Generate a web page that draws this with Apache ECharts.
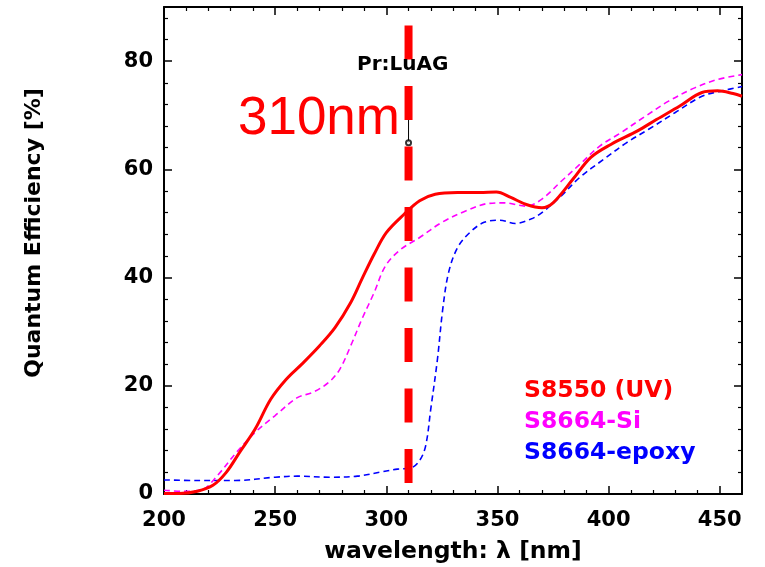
<!DOCTYPE html>
<html><head><meta charset="utf-8">
<script src="https://cdn.jsdelivr.net/npm/echarts@6/dist/echarts.min.js"></script>
<style>html,body{margin:0;padding:0;background:#fff}#c{width:765px;height:567px}</style>
</head><body><div id="c"></div>
<script>
// ---- data (wavelength nm, quantum efficiency %) ----
const seriesNames = ['S8550 (UV)', 'S8664-Si', 'S8664-epoxy'];
const seriesColors = ['#ff0000', '#ff00ff', '#0000ff'];
const s8550 = [[200,0.1],[207,0.1],[215,0.5],[222,1.6],[228,4],[234,7.7],[241,12],[248,17.5],[255,21.2],[262,24],[270,27.4],[277,30.8],[284,35.4],[289,39.7],[294.5,44.3],[300,48.3],[308,51.7],[315,54.2],[322,55.4],[332,55.7],[342,55.7],[349.5,55.8],[356,54.8],[363,53.5],[370,52.9],[375,53.8],[384,58.2],[392,62.2],[401,64.6],[413,67.1],[421.5,69.2],[432,71.7],[442,74.2],[449,74.5],[456,74],[460,73.5]];
const s8664Si = [[200,0.7],[208.6,0.5],[217,0.8],[224,3.4],[232.6,7.7],[241,11.4],[250,14.5],[260,17.8],[267,18.8],[274,20.6],[279,23],[284,27.4],[289,32.3],[294.5,37.2],[299.7,42.2],[306.5,45.2],[315,47.4],[325,50.2],[335.7,52.3],[346,53.7],[353,53.8],[363,53.2],[370,54.5],[378.7,57.8],[387,60.9],[396,64.3],[404.5,66.5],[416.5,69.8],[427,72.6],[439,75.1],[449,76.6],[460,77.5]];
const s8664Epoxy = [[200,2.6],[215,2.5],[232,2.5],[250,3.1],[260,3.3],[275,3.1],[287,3.3],[298,4.1],[305,4.6],[311,4.8],[315,6.2],[317.7,8.9],[320,15.7],[323,24.9],[325.4,34.2],[328,40.9],[332,45.5],[337.5,48.3],[344,50.2],[351,50.6],[358,50],[365,50.8],[370,52],[378.7,55.1],[387,58.5],[397.6,61.8],[408,64.9],[418,67.4],[430,70.5],[442,73.5],[451,74.5],[460,75.3]];
const xTickLabels = [200, 250, 300, 350, 400, 450];
const yTickLabels = [0, 20, 40, 60, 80];
const markerWavelength = 310;          // nm, red dashed marker
const markerExtent = [86.6, 1.85];     // % range covered by the marker line
const prLuAGPoint = [310, 64.9];       // Pr:LuAG point
const prLuAGBarTop = 71;               // top of its error bar
const markerLabel = '310nm';
const pointLabel = 'Pr:LuAG';
const xTitle = 'wavelength: \u03bb [nm]';
const yTitle = 'Quantum Efficiency [%]';

const FONT = 'DejaVu Sans';
const chart = echarts.init(document.getElementById('c'), null, {renderer: 'canvas'});

function axisBase(pos, isX, ticks) {
  return {
    type: 'value', position: pos,
    min: isX ? 200 : 0, max: isX ? 460 : 90, interval: isX ? 50 : 20,
    axisLine: {show: true, onZero: false, lineStyle: {color: '#000', width: 2}},
    axisTick: {show: true, inside: true, length: 8, lineStyle: {color: '#000', width: 1.5}},
    minorTick: {show: true, splitNumber: 5, length: 4, lineStyle: {color: '#000', width: 1.2}},
    splitLine: {show: false},
    axisLabel: {
      show: pos === 'bottom' || pos === 'left',
      margin: isX ? 16 : 11,
      color: '#000', fontFamily: FONT, fontWeight: 'bold', fontSize: 21,
      formatter: v => ticks.includes(v) ? String(v) : ''
    }
  };
}

const curves = [s8550, s8664Si, s8664Epoxy];
const series = curves.map((d, i) => ({
  name: seriesNames[i], type: 'line', data: d, smooth: 0.35, showSymbol: false, symbol: 'none',
  xAxisIndex: 0, yAxisIndex: 0, z: 3 - i + 2,
  lineStyle: i === 0 ? {color: seriesColors[i], width: 3} : {color: seriesColors[i], width: 1.6, type: [6, 4]},
  itemStyle: {color: seriesColors[i]}
}));
series.push({
  name: 'bar', type: 'line', data: [prLuAGPoint, [prLuAGPoint[0], prLuAGBarTop]], symbol: 'none',
  lineStyle: {color: '#000', width: 1}, z: 6
});
series.push({
  name: 'pt', type: 'scatter', data: [prLuAGPoint], symbol: 'emptyCircle', symbolSize: 5,
  itemStyle: {color: '#000', borderColor: '#000', borderWidth: 1}, z: 6
});
series.push({
  name: 'marker', type: 'line',
  data: [[markerWavelength, markerExtent[0]], [markerWavelength, markerExtent[1]]], symbol: 'none',
  lineStyle: {color: '#ff0000', width: 8, type: [34, 26.5], cap: 'butt'}, z: 8
});

chart.setOption({
  animation: false,
  backgroundColor: '#fff',
  grid: {left: 164, right: 23, top: 7, bottom: 73, containLabel: false},
  xAxis: [axisBase('bottom', true, xTickLabels), axisBase('top', true, xTickLabels)],
  yAxis: [axisBase('left', false, yTickLabels), axisBase('right', false, yTickLabels)],
  legend: {
    orient: 'vertical', left: 514, top: 374, icon: 'none', itemWidth: 0, itemHeight: 20, itemGap: 7,
    selectedMode: false,
    data: seriesNames.map((n, i) => ({name: n, textStyle: {color: seriesColors[i]}})),
    textStyle: {fontFamily: FONT, fontWeight: 'bold', fontSize: 23.5, lineHeight: 20}
  },
  graphic: [
    {type: 'text', x: 34, y: 233, rotation: Math.PI / 2, z: 10,
     style: {text: yTitle, fill: '#000', font: 'bold 22px "DejaVu Sans"', textAlign: 'center', textVerticalAlign: 'middle'}},
    {type: 'text', x: 453, y: 552, z: 10,
     style: {text: xTitle, fill: '#000', font: 'bold 23.5px "DejaVu Sans"', textAlign: 'center', textVerticalAlign: 'middle'}},
    {type: 'text', x: 400, y: 119, z: 10,
     style: {text: markerLabel, fill: '#ff0000', font: '53px "Liberation Sans"', textAlign: 'right', textVerticalAlign: 'middle'}},
    {type: 'text', x: 357, y: 65, z: 10,
     style: {text: pointLabel, fill: '#000', font: 'bold 20px "DejaVu Sans"', textAlign: 'left', textVerticalAlign: 'middle'}}
  ],
  series: series
});
</script>
</body></html>
